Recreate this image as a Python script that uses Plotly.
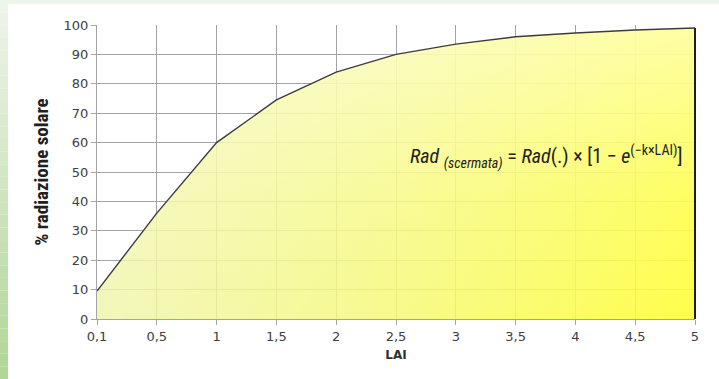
import plotly.graph_objects as go

lai_labels = ["0,1", "0,5", "1", "1,5", "2", "2,5", "3", "3,5", "4", "4,5", "5"]
rad_pct = [9.5, 36, 60, 74.5, 84, 90, 93.5, 96, 97.3, 98.3, 99]
y_ticks = list(range(0, 101, 10))

W, H = 719, 379
L, R, T, B = 97, 24, 25, 60
pw = W - L - R
ph = H - T - B

fig = go.Figure()
# main area with horizontal gradient
fig.add_trace(go.Scatter(
    x=lai_labels, y=rad_pct, mode="lines",
    line=dict(width=0),
    fill="tozeroy",
    fillgradient=dict(type="horizontal",
                      colorscale=[[0, "rgba(240,245,172,0.82)"],
                                  [0.5, "rgba(246,249,118,0.85)"],
                                  [1, "rgba(254,254,55,0.9)"]]),
    hoverinfo="skip", showlegend=False,
))
# light overlay toward the top for the diagonal shading
fig.add_trace(go.Scatter(
    x=lai_labels, y=rad_pct, mode="lines",
    line=dict(width=0),
    fill="tozeroy",
    fillgradient=dict(type="vertical", start=0, stop=100,
                      colorscale=[[0, "rgba(255,255,255,0)"],
                                  [0.4, "rgba(255,255,255,0.12)"],
                                  [1, "rgba(255,255,255,0.5)"]]),
    hoverinfo="skip", showlegend=False,
))
# the curve on top
fig.add_trace(go.Scatter(
    x=lai_labels, y=rad_pct, mode="lines",
    line=dict(color="#3c3c3c", width=1.4),
    hoverinfo="skip", showlegend=False,
))

shapes = []
# right border of the area
shapes.append(dict(type="line", xref="paper", yref="y", x0=1, x1=1,
                   y0=0, y1=rad_pct[-1], line=dict(color="#1e1e1e", width=2)))
# decorative frame: top strip and left green strip
shapes.append(dict(type="rect", xref="paper", yref="paper", layer="below",
                   x0=-L / pw, x1=1 + R / pw, y0=(H - B - 4) / ph,
                   y1=(H - B) / ph, line=dict(width=0), fillcolor="#eef5ea"))
n = 30
for i in range(n):
    f = i / (n - 1)
    r = int(238 + (178 - 238) * f)
    g = int(245 + (214 - 245) * f)
    b = int(234 + (152 - 234) * f)
    y_top = i * H / n
    y_bot = (i + 1) * H / n
    shapes.append(dict(type="rect", xref="paper", yref="paper", layer="below",
                       x0=-L / pw, x1=-(L - 8) / pw,
                       y0=(H - B - y_bot) / ph, y1=(H - B - y_top) / ph,
                       line=dict(width=0), fillcolor=f"rgb({r},{g},{b})"))

fig.update_layout(
    width=W, height=H,
    margin=dict(l=L, r=R, t=T, b=B),
    paper_bgcolor="white", plot_bgcolor="white",
    font=dict(family="DejaVu Sans, Verdana, sans-serif", color="#404040", size=13),
    shapes=shapes,
    xaxis=dict(type="category", categoryorder="array", categoryarray=lai_labels,
               range=[0, len(lai_labels) - 1],
               showgrid=True, gridcolor="#a4a4a4", gridwidth=1,
               showline=True, linecolor="#a4a4a4", linewidth=1,
               ticks="outside", ticklen=5, tickcolor="#a4a4a4",
               tickfont=dict(size=13, color="#404040"),
               title=dict(text="<b>LAI</b>", font=dict(size=12, color="#303030"),
                          standoff=8),
               zeroline=False),
    yaxis=dict(range=[0, 100], tickvals=y_ticks,
               showgrid=True, gridcolor="#a4a4a4", gridwidth=1,
               showline=True, linecolor="#a4a4a4", linewidth=1,
               ticks="outside", ticklen=5, tickcolor="#a4a4a4",
               tickfont=dict(size=13, color="#404040"),
               title=dict(text="<b>% radiazione solare</b>",
                          font=dict(family="Liberation Sans Narrow, Roboto Condensed, Liberation Sans, sans-serif",
                                    size=19, color="#202020"),
                          standoff=9),
               zeroline=False),
    annotations=[dict(
        xref="paper", yref="paper", x=(546 - L) / pw, y=(H - B - 157) / ph,
        text="<i>Rad</i> <sub><i>(scermata)</i></sub> = <i>Rad</i>(.) × [1 − <i>e</i><sup>(−k×LAI)</sup>]",
        showarrow=False,
        font=dict(family="Liberation Sans Narrow, Roboto Condensed, Liberation Sans, sans-serif",
                  size=20, color="#202020"),
        xanchor="center", yanchor="middle")],
)

fig.write_html("out.html", config={"displayModeBar": False},
               post_script="document.body.style.margin='0';document.body.style.overflow='hidden';")
